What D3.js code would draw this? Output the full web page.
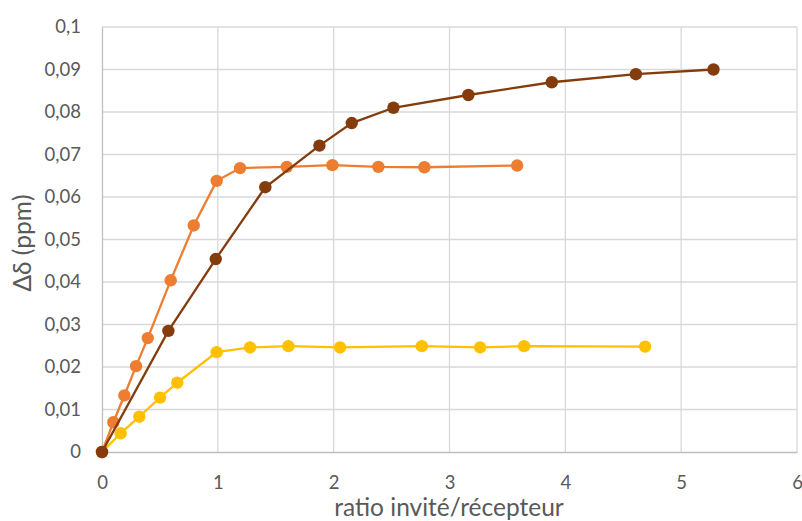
<!DOCTYPE html>
<html><head><meta charset="utf-8">
<script src="https://cdn.jsdelivr.net/npm/d3@7"></script>
<style>body{margin:0;background:#fff}svg{display:block}text{font-family:Lato,"Open Sans",sans-serif;fill:#595959}</style>
</head><body><svg id="c" width="802" height="521"></svg>
<script>
const xTicks = [0,1,2,3,4,5,6];
const yTicks = [0,0.01,0.02,0.03,0.04,0.05,0.06,0.07,0.08,0.09,0.1];
const yTickLabels = ["0","0,01","0,02","0,03","0,04","0,05","0,06","0,07","0,08","0,09","0,1"];
const xTitle = "ratio invité/récepteur";
const yTitle = "Δδ (ppm)";

const yellowX = [0,0.161,0.322,0.501,0.650,0.990,1.278,1.609,2.055,2.761,3.264,3.644,4.689];
const yellowY = [0,0.0044,0.0083,0.0128,0.0163,0.0235,0.0246,0.0249,0.0246,0.0249,0.0246,0.0249,0.0248];
const orangeX = [0,0.098,0.193,0.294,0.395,0.593,0.792,0.990,1.192,1.595,1.989,2.386,2.783,3.584];
const orangeY = [0,0.0070,0.0133,0.0202,0.0268,0.0404,0.0533,0.0638,0.0668,0.0671,0.0675,0.0671,0.0670,0.0674];
const brownX = [0,0.573,0.982,1.41,1.877,2.156,2.516,3.163,3.883,4.609,5.279];
const brownY = [0,0.0285,0.0454,0.0623,0.0721,0.0774,0.0810,0.0840,0.0870,0.0889,0.0900];

const series = [
  {x: yellowX, y: yellowY, color: "#FFC000"},
  {x: orangeX, y: orangeY, color: "#ED7D31"},
  {x: brownX, y: brownY, color: "#843C0C"}
];

const svg = d3.select("#c");
const L = 102, R = 797, T = 27, B = 452;
const x = d3.scaleLinear().domain([0,6]).range([L,R]);
const y = d3.scaleLinear().domain([0,0.1]).range([B,T]);

// gridlines
const grid = svg.append("g");
grid.selectAll(".gy").data(yTicks.slice(1)).enter().append("line")
  .attr("x1", L).attr("x2", R).attr("y1", d=>y(d)).attr("y2", d=>y(d))
  .attr("stroke", "#d9d9d9").attr("stroke-width", 1.3);
grid.selectAll(".gx").data(xTicks.slice(1)).enter().append("line")
  .attr("y1", T).attr("y2", B).attr("x1", d=>x(d)).attr("x2", d=>x(d))
  .attr("stroke", "#d9d9d9").attr("stroke-width", 1.3);

// axes
const xAxis = d3.axisBottom(x).tickValues(xTicks).tickSize(0).tickPadding(22).tickFormat(d3.format("d"));
const gx = svg.append("g").attr("transform", `translate(0,${B})`).call(xAxis);
gx.select(".domain").attr("stroke", "#bfbfbf").attr("stroke-width", 1.3);
gx.selectAll("text").attr("font-size", 18.5).style("fill", "#595959").attr("dy", "0.35em").attr("y", 31);

const yAxis = d3.axisLeft(y).tickValues(yTicks).tickSize(0).tickPadding(21)
  .tickFormat((d,i)=>yTickLabels[i]);
const gy = svg.append("g").attr("transform", `translate(${L},0)`).call(yAxis);
gy.select(".domain").attr("stroke", "#bfbfbf").attr("stroke-width", 1.3);
gy.selectAll("text").attr("font-size", 18.5).style("fill", "#595959");

// titles
svg.append("text").attr("x", 449).attr("y", 516).attr("text-anchor", "middle")
  .attr("font-size", 24.5).text(xTitle);
svg.append("text").attr("transform", "translate(31,243) rotate(-90)")
  .attr("text-anchor", "middle").attr("font-size", 24.5).text(yTitle);

// series
const line = d3.line().x(d=>x(d[0])).y(d=>y(d[1]));
series.forEach(s => {
  const pts = s.x.map((v,i)=>[v, s.y[i]]);
  const g = svg.append("g");
  g.append("path").datum(pts).attr("d", line).attr("fill", "none")
    .attr("stroke", s.color).attr("stroke-width", 2.3);
  g.selectAll("circle").data(pts).enter().append("circle")
    .attr("cx", d=>x(d[0])).attr("cy", d=>y(d[1])).attr("r", 6.2).attr("fill", s.color);
});
</script></body></html>
